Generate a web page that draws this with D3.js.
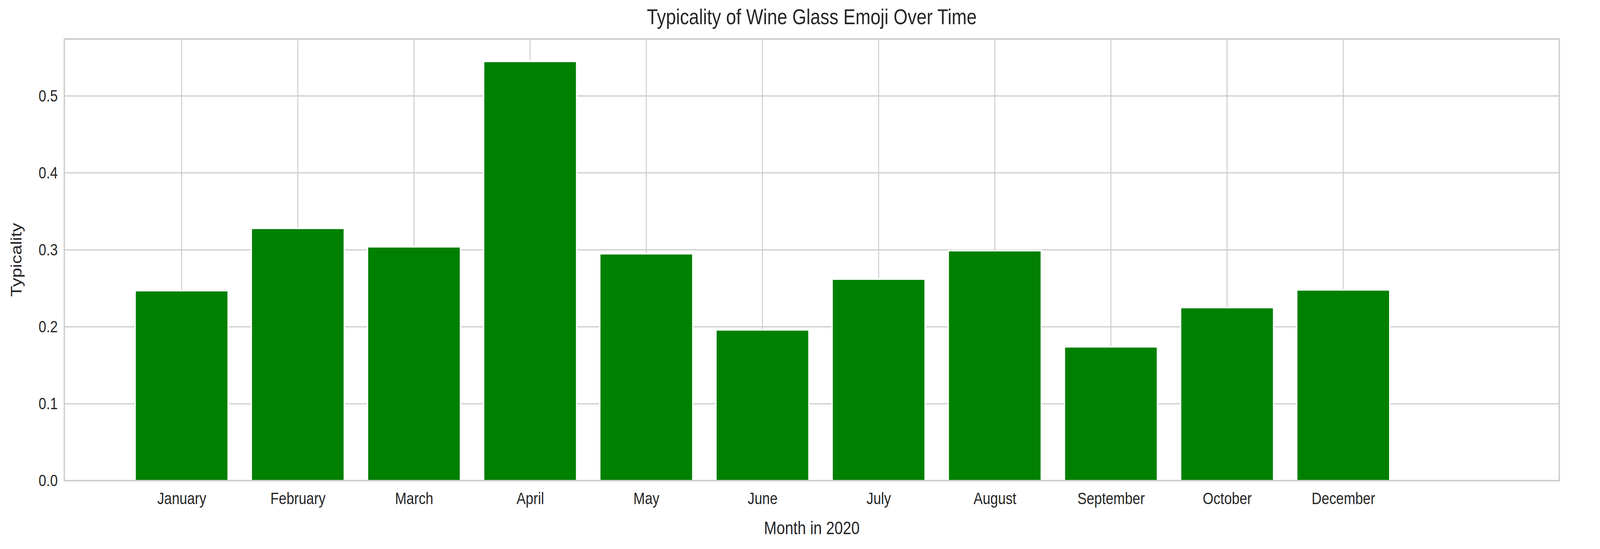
<!DOCTYPE html>
<html>
<head>
<meta charset="utf-8">
<script src="https://cdn.jsdelivr.net/npm/d3@7"></script>
<style>
  html, body { margin: 0; padding: 0; background: #fff; overflow: hidden; }
  svg { display: block; width: 100vw; height: 100vh; }
  text { font-family: "Liberation Sans", Arial, sans-serif; fill: #262626; }
</style>
</head>
<body>
<div id="chart"></div>
<script>
var svgWidth = 4876;
var svgHeight = 1406;

var margin = { top: 100, right: 124, bottom: 175, left: 196 };
var width = svgWidth - margin.left - margin.right;
var height = svgHeight - margin.top - margin.bottom;

// data
var months = ["January", "February", "March", "April", "May", "June",
              "July", "August", "September", "October", "December"];
var typicality = [0.247, 0.328, 0.304, 0.545, 0.295, 0.196,
                  0.262, 0.299, 0.174, 0.225, 0.248];
var yTicks = [0.0, 0.1, 0.2, 0.3, 0.4, 0.5];

// scale to the window whatever its css size
var svg = d3.select("#chart")
  .append("svg")
  .attr("viewBox", `0 0 ${svgWidth} ${svgHeight}`)
  .attr("preserveAspectRatio", "none");

var chartGroup = svg.append("g")
  .attr("transform", `translate(${margin.left}, ${margin.top})`);

// bars sit at integer positions, matplotlib-style
var xScale = d3.scaleLinear()
  .domain([-1.01, months.length - 1 + 1.86])
  .range([0, width]);

var yScale = d3.scaleLinear()
  .domain([0, 0.574])
  .range([height, 0]);

var barWidth = xScale(0.8) - xScale(0);

// grid
chartGroup.append("g")
  .selectAll("line")
  .data(yTicks)
  .enter()
  .append("line")
  .attr("x1", 0).attr("x2", width)
  .attr("y1", d => yScale(d)).attr("y2", d => yScale(d))
  .attr("stroke", "#cccccc").attr("stroke-width", 3);

chartGroup.append("g")
  .selectAll("line")
  .data(months)
  .enter()
  .append("line")
  .attr("x1", (d, i) => xScale(i)).attr("x2", (d, i) => xScale(i))
  .attr("y1", 0).attr("y2", height)
  .attr("stroke", "#cccccc").attr("stroke-width", 3);

// bars
chartGroup.selectAll(".bar")
  .data(typicality)
  .enter()
  .append("rect")
  .attr("class", "bar")
  .attr("x", (d, i) => xScale(i) - barWidth / 2)
  .attr("y", d => yScale(d))
  .attr("width", barWidth)
  .attr("height", d => height - yScale(d))
  .attr("fill", "#008000")
  .attr("stroke", "#ffffff")
  .attr("stroke-width", 4);

// frame
chartGroup.append("rect")
  .attr("width", width).attr("height", height)
  .attr("fill", "none").attr("stroke", "#cccccc").attr("stroke-width", 4);

// axes (no tick marks)
var leftAxis = d3.axisLeft(yScale).tickValues(yTicks).tickFormat(d3.format(".1f")).tickSize(0).tickPadding(20);
var bottomAxis = d3.axisBottom(xScale).tickValues(d3.range(months.length))
  .tickFormat(i => months[i]).tickSize(0).tickPadding(30);

var yAxisG = chartGroup.append("g").call(leftAxis);
var xAxisG = chartGroup.append("g").attr("transform", `translate(0, ${height})`).call(bottomAxis);
[yAxisG, xAxisG].forEach(function(g) {
  g.select(".domain").remove();
  g.selectAll("text").attr("font-size", 42).style("fill", "#262626")
    .attr("font-family", "Liberation Sans, Arial, sans-serif");
});

// labels
svg.append("text")
  .attr("x", margin.left + width / 2).attr("y", 62)
  .attr("text-anchor", "middle").attr("font-size", 55)
  .text("Typicality of Wine Glass Emoji Over Time");

svg.append("text")
  .attr("x", margin.left + width / 2).attr("y", 1368)
  .attr("text-anchor", "middle").attr("font-size", 46)
  .text("Month in 2020");

svg.append("text")
  .attr("transform", `translate(66, ${margin.top + height / 2}) rotate(-90)`)
  .attr("text-anchor", "middle").attr("font-size", 46)
  .text("Typicality");
</script>
</body>
</html>
